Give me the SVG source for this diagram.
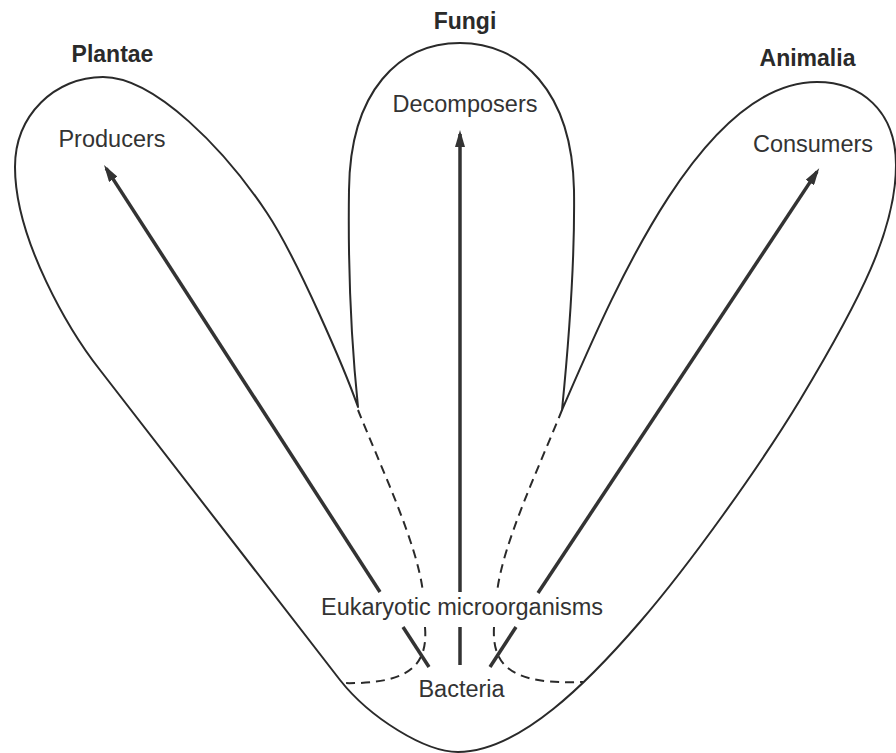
<svg xmlns="http://www.w3.org/2000/svg" width="896" height="753" viewBox="0 0 896 753">
<style>
.bg{fill:#ffffff}
.outline{fill:none;stroke:#2a2a2a;stroke-width:2;stroke-linejoin:round}
.dash{fill:none;stroke:#2a2a2a;stroke-width:2;stroke-dasharray:9 6}
.arrow{fill:none;stroke:#333333;stroke-width:3.5}
.lbl{font-family:"Liberation Sans",Arial,sans-serif;font-size:23.5px;fill:#333333;text-anchor:middle}
.title{font-family:"Liberation Sans",Arial,sans-serif;font-size:23px;font-weight:bold;fill:#2a2a2a;text-anchor:middle}
</style>
<defs>
<marker id="head" viewBox="0 0 17 10" refX="13" refY="5" markerWidth="17" markerHeight="10" markerUnits="userSpaceOnUse" orient="auto">
<path d="M0,0 L17,5 L0,10 z" fill="#333333"/>
</marker>
</defs>
<rect class="bg" x="0" y="0" width="896" height="753"/>
<g id="boundary">
<path class="outline" d="M 458 752 C 425 752 370 718 340 680 L 100 370 C 70 332 15 240 15 167 C 15 115 55 77 103 77 C 155 77 225 150 267 213 C 297 258 345 370 358 407 C 350 330 348 260 349 190 C 350 90 400 43 460 43 C 520 43 572 90 574 190 C 575 260 568 350 562 410 C 610 300 700 82 817 82 C 860 82 896 110 896 165 C 896 230 860 300 800 400 C 760 466 690 564 640 622 C 590 680 520 752 458 752 Z"/>
<path class="dash" d="M 358 410 C 380 465 418 545 423 593"/>
<path class="dash" d="M 425 627 C 428 665 410 685 340 683"/>
<path class="dash" d="M 562 410 C 540 465 502 545 497 593"/>
<path class="dash" d="M 494 627 C 492 665 510 685 583 682"/>
</g>
<g id="plantae">
<text class="title" x="112.5" y="62">Plantae</text>
<text class="lbl" x="112" y="147">Producers</text>
</g>
<g id="fungi">
<text class="title" x="465" y="29">Fungi</text>
<text class="lbl" x="465" y="112">Decomposers</text>
</g>
<g id="animalia">
<text class="title" x="807.5" y="66">Animalia</text>
<text class="lbl" x="813" y="152">Consumers</text>
</g>
<g id="eukaryotic-microorganisms">
<text class="lbl" x="462" y="615">Eukaryotic microorganisms</text>
</g>
<g id="bacteria">
<text class="lbl" x="461.5" y="697">Bacteria</text>
</g>
<g id="connectors">
<line class="arrow" x1="429" y1="667" x2="403" y2="627"/>
<line class="arrow" x1="380" y1="592" x2="106.2" y2="168.4" marker-end="url(#head)"/>
<line class="arrow" x1="460" y1="665" x2="460" y2="627"/>
<line class="arrow" x1="460" y1="592" x2="460" y2="134" marker-end="url(#head)"/>
<line class="arrow" x1="490" y1="667" x2="516" y2="627"/>
<line class="arrow" x1="538" y1="593" x2="817" y2="171.6" marker-end="url(#head)"/>
</g>
</svg>
